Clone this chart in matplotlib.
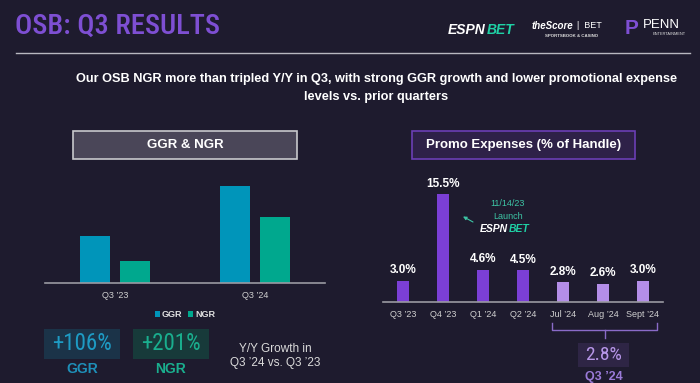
import matplotlib
matplotlib.use("Agg")
import matplotlib.pyplot as plt
from matplotlib.patches import Rectangle

# ---- data ----
quarters = ["Q3 \u201923", "Q3 \u201924"]
ggr = [47, 97]          # relative bar heights (no axis values shown)
ngr = [22, 66]
growth_labels = ["+106%", "+201%"]

promo_labels = ["Q3 \u201923", "Q4 \u201923", "Q1 \u201924", "Q2 \u201924",
                "Jul \u201924", "Aug \u201924", "Sept \u201924"]
promo = [3.0, 15.5, 4.6, 4.5, 2.8, 2.6, 3.0]
promo_q3_avg = "2.8%"

BG = "#1E1B2E"
W, H = 700, 383

SANS = ["Liberation Sans", "DejaVu Sans"]
COND = ["Roboto Condensed", "Barlow Condensed", "DejaVu Sans"]
plt.rcParams["font.family"] = SANS

fig = plt.figure(figsize=(7, 3.83), dpi=100, facecolor=BG)


def fx(x):
    return x / W


def fy(y):
    return 1 - y / H


def ftext(x, y, s, **kw):
    kw.setdefault("ha", "center")
    kw.setdefault("va", "center")
    return fig.text(fx(x), fy(y), s, **kw)


def fbox(x0, y0, x1, y1, fc, ec="none", lw=1.0):
    fig.add_artist(Rectangle((fx(x0), fy(y1)), fx(x1) - fx(x0), fy(y0) - fy(y1),
                             transform=fig.transFigure, facecolor=fc,
                             edgecolor=ec, linewidth=lw))


# ---- header ----
ftext(15, 26, "OSB: Q3 RESULTS", ha="left", fontsize=20.5, color="#7E4FD3",
      family=COND, fontweight="medium")
fig.add_artist(plt.Line2D([fx(16), fx(690)], [fy(53), fy(53)],
                          transform=fig.transFigure, color="#B8B8C0", lw=1))

# logos as text
ftext(448, 30, "ESPN", ha="left", fontsize=10, color="white",
      fontweight="heavy", fontstyle="italic")
ftext(487, 30, "BET", ha="left", fontsize=10, color="#1FD1A5",
      fontweight="bold", fontstyle="italic")
ftext(532, 26, "theScore", ha="left", fontsize=7, color="white",
      fontweight="bold", fontstyle="italic")
ftext(577, 26, "|  BET", ha="left", fontsize=6.5, color="white")
ftext(572, 36, "SPORTSBOOK & CASINO", fontsize=3.2, color="#DDDDDD",
      fontweight="bold")
ftext(632, 29, "P", fontsize=15, color="#7E4FD3", fontweight="bold")
ftext(643, 25, "PENN", ha="left", fontsize=9.5, color="white")
ftext(669, 34, "ENTERTAINMENT", fontsize=2.8, color="#DDDDDD")

ftext(376.5, 79, "Our OSB NGR more than tripled Y/Y in Q3, with strong GGR growth "
      "and lower promotional expense", fontsize=9.2, color="white", fontweight="bold")
ftext(376.5, 97, "levels vs. prior quarters", fontsize=9.2, color="white",
      fontweight="bold")

# ---- section headers ----
fbox(73, 131, 297, 159, "#4A4658", "#C8C8CC", 1.2)
ftext(185, 145, "GGR & NGR", fontsize=9.5, color="white", fontweight="bold")
fbox(412, 131, 635, 159, "#2E2148", "#6B3FB5", 1.2)
ftext(523.5, 145, "Promo Expenses (% of Handle)", fontsize=9.5, color="white",
      fontweight="bold")

# ---- GGR & NGR chart ----
ax1 = fig.add_axes([fx(45), fy(282.7), fx(325) - fx(45), fy(170) - fy(282.7)])
ax1.set_facecolor("none")
x = range(len(quarters))
ax1.bar([i - 0.143 for i in x], ggr, width=0.22, color="#0095BA", label="GGR")
ax1.bar([i + 0.143 for i in x], ngr, width=0.22, color="#00A88E", label="NGR")
ax1.set_xlim(-0.5, 1.5)
ax1.set_ylim(0, 97 * 112.7 / 96.7)
ax1.set_xticks(list(x))
ax1.set_xticklabels(quarters, fontsize=6.5, color="#D0D0D0")
ax1.tick_params(length=0, pad=6)
ax1.set_yticks([])
for s in ["top", "right", "left"]:
    ax1.spines[s].set_visible(False)
ax1.spines["bottom"].set_color("#9A9AA2")
ax1.spines["bottom"].set_linewidth(1.2)
leg = ax1.legend(loc="upper center", bbox_to_anchor=(0.5, -0.17), ncol=2,
                 frameon=False, fontsize=6.5, handlelength=0.6, handleheight=0.6,
                 handletextpad=0.2, columnspacing=0.6)
for t in leg.get_texts():
    t.set_color("#E0E0E0")
    t.set_fontweight("bold")

# growth call-outs
fbox(44, 329, 120, 359, "#1B3348")
ftext(82, 344, growth_labels[0], fontsize=16.5, color="#1E9BC4", family=COND)
ftext(82, 369, "GGR", fontsize=10, color="#1E8FB8", fontweight="bold")
fbox(133, 329, 209, 359, "#173A3A")
ftext(171, 344, growth_labels[1], fontsize=16.5, color="#1AAE8E", family=COND)
ftext(171, 369, "NGR", fontsize=10, color="#1AAE8E", fontweight="bold")
ftext(275, 349, "Y/Y Growth in", fontsize=8.5, color="#DADADA")
ftext(275, 363, "Q3 \u201924 vs. Q3 \u201923", fontsize=8.5, color="#DADADA")

# ---- promo chart ----
ax2 = fig.add_axes([fx(383), fy(301.7), fx(663) - fx(383), fy(180) - fy(301.7)])
ax2.set_facecolor("none")
px = list(range(len(promo)))
colors = ["#7B3FD6"] * 4 + ["#B48EE8"] * 3
ax2.bar(px, promo, width=0.32, color=colors)
for i, v in zip(px, promo):
    ax2.annotate(f"{v:.1f}%", (i, v), xytext=(0, 7.5), textcoords="offset points",
                 ha="center", va="center", fontsize=8.5, color="white",
                 fontweight="bold")
ax2.set_xlim(-0.5, len(promo) - 0.5)
ax2.set_ylim(0, (301.7 - 180) / 6.95)
ax2.set_xticks(px)
ax2.set_xticklabels(promo_labels, fontsize=6.5, color="#D0D0D0")
ax2.tick_params(length=0, pad=6)
ax2.set_yticks([])
for s in ["top", "right", "left"]:
    ax2.spines[s].set_visible(False)
ax2.spines["bottom"].set_color("#9A9AA2")
ax2.spines["bottom"].set_linewidth(1.2)

# launch note
ftext(508, 204, "11/14/23", fontsize=6.5, color="#3DC5A5")
ftext(508, 216, "Launch", fontsize=6.5, color="#3DC5A5")
ax2.annotate("", xy=(fx(463), fy(216.5)), xytext=(fx(473), fy(222)),
             xycoords="figure fraction", textcoords="figure fraction",
             arrowprops=dict(arrowstyle="-|>", color="#3DC5A5", lw=0.8,
                             mutation_scale=5, shrinkA=0, shrinkB=0))
ftext(480, 229, "ESPN", ha="left", fontsize=7.5, color="white",
      fontweight="heavy", fontstyle="italic")
ftext(509, 229, "BET", ha="left", fontsize=7.5, color="#1FD1A5",
      fontweight="bold", fontstyle="italic")

# Q3 '24 bracket
bc = "#8A6BC8"
fig.add_artist(plt.Line2D([fx(552), fx(552), fx(657), fx(657)],
                          [fy(323), fy(330), fy(330), fy(323)],
                          transform=fig.transFigure, color=bc, lw=1))
fig.add_artist(plt.Line2D([fx(604.5), fx(604.5)], [fy(330), fy(338)],
                          transform=fig.transFigure, color=bc, lw=1))
fbox(578, 343, 629, 367, "#2E2545")
ftext(603.5, 355, promo_q3_avg, fontsize=14, color="#B796E8", family=COND)
ftext(603.5, 377, "Q3 \u201924", fontsize=9, color="#9A7AD8", fontweight="bold")

fig.savefig("out.png", dpi=100, facecolor=BG)
